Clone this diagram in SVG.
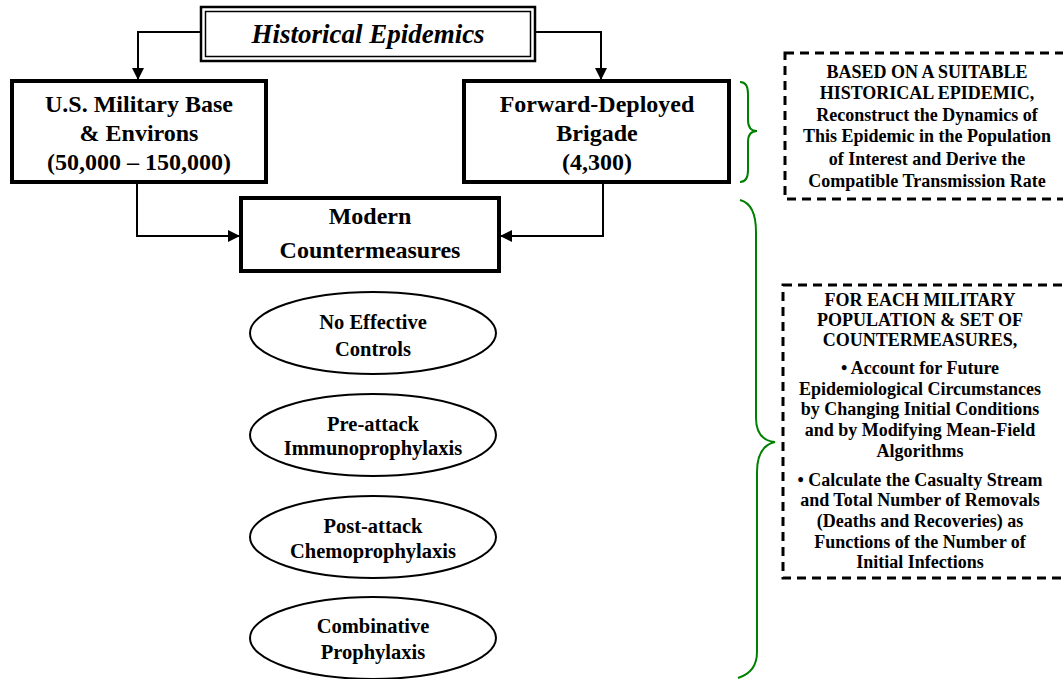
<svg xmlns="http://www.w3.org/2000/svg" width="1063" height="679" viewBox="0 0 1063 679">
<defs>
<marker id="ah" markerWidth="12" markerHeight="12" refX="11" refY="6" orient="auto" markerUnits="userSpaceOnUse">
<path d="M0,0 L12,6 L0,12 Z" fill="#000"/>
</marker>
<style>
.box{fill:#fff;stroke:#000;stroke-width:4}
.ell{fill:#fff;stroke:#000;stroke-width:2}
.conn{fill:none;stroke:#000;stroke-width:2}
.brace{fill:none;stroke:#008000;stroke-width:2}
.dash{fill:#fff;stroke:#000;stroke-width:3;stroke-dasharray:9 6}
text{font-family:"Liberation Serif","Times New Roman",serif;font-weight:bold;text-anchor:middle;fill:#000}
.big{font-size:24px}
.mid{font-size:20.5px}
.sm{font-size:18px}
</style>
</defs>
<rect width="1063" height="679" fill="#fff"/>
<g id="connectors">
<path class="conn" d="M201,32 H138 V79" marker-end="url(#ah)"/>
<path class="conn" d="M535,32 H601 V79" marker-end="url(#ah)"/>
<path class="conn" d="M137,183 V236 H239" marker-end="url(#ah)"/>
<path class="conn" d="M603,183 V236 H501" marker-end="url(#ah)"/>
</g>
<g id="historical">
<rect x="201" y="7" width="334" height="54" fill="#fff" stroke="#000" stroke-width="2.5"/>
<rect x="205.5" y="11.5" width="325" height="45" fill="none" stroke="#000" stroke-width="1.5"/>
<text x="368" y="43" style="font-size:27px;font-style:italic">Historical Epidemics</text>
</g>
<g id="base">
<rect class="box" x="12" y="81" width="254" height="101"/>
<text class="big" x="139" y="112">U.S. Military Base</text>
<text class="big" x="139" y="141">&amp; Environs</text>
<text class="big" x="139" y="170">(50,000 – 150,000)</text>
</g>
<g id="brigade">
<rect class="box" x="464" y="81" width="265" height="101"/>
<text class="big" x="597" y="112">Forward-Deployed</text>
<text class="big" x="597" y="141">Brigade</text>
<text class="big" x="597" y="170">(4,300)</text>
</g>
<g id="modern">
<rect class="box" x="241" y="198" width="258" height="73"/>
<text class="big" x="370" y="224">Modern</text>
<text class="big" x="370" y="258">Countermeasures</text>
</g>
<g id="e1">
<ellipse class="ell" cx="373" cy="333" rx="123" ry="41"/>
<text class="mid" x="373" y="329">No Effective</text>
<text class="mid" x="373" y="356">Controls</text>
</g>
<g id="e2">
<ellipse class="ell" cx="373" cy="435" rx="123" ry="41"/>
<text class="mid" x="373" y="431">Pre-attack</text>
<text class="mid" x="373" y="455">Immunoprophylaxis</text>
</g>
<g id="e3">
<ellipse class="ell" cx="373" cy="537" rx="123" ry="41"/>
<text class="mid" x="373" y="533">Post-attack</text>
<text class="mid" x="373" y="558">Chemoprophylaxis</text>
</g>
<g id="e4">
<ellipse class="ell" cx="373" cy="638" rx="123" ry="41"/>
<text class="mid" x="373" y="633">Combinative</text>
<text class="mid" x="373" y="659">Prophylaxis</text>
</g>
<g id="braces">
<path class="brace" d="M740,82 Q748,82 748,94 L748,120 Q748,131 757,131 Q748,131 748,142 L748,170 Q748,182 740,182"/>
<path class="brace" d="M740,200 Q756,204 756,232 L756,418 Q756,440 775,442 Q757,446 757,472 L757,652 Q757,672 738,678"/>
</g>
<g id="note1">
<rect class="dash" x="785" y="53" width="300" height="146"/>
<text class="sm" x="927" y="78">BASED ON A SUITABLE</text>
<text class="sm" x="927" y="99">HISTORICAL EPIDEMIC,</text>
<text class="sm" x="927" y="121">Reconstruct the Dynamics of</text>
<text class="sm" x="927" y="142">This Epidemic in the Population</text>
<text class="sm" x="927" y="165">of Interest and Derive the</text>
<text class="sm" x="927" y="187">Compatible Transmission Rate</text>
</g>
<g id="note2">
<rect class="dash" x="783" y="285" width="300" height="293"/>
<text class="sm" x="920" y="306">FOR EACH MILITARY</text>
<text class="sm" x="920" y="326">POPULATION &amp; SET OF</text>
<text class="sm" x="920" y="346">COUNTERMEASURES,</text>
<text class="sm" x="920" y="374">• Account for Future</text>
<text class="sm" x="920" y="395">Epidemiological Circumstances</text>
<text class="sm" x="920" y="415">by Changing Initial Conditions</text>
<text class="sm" x="920" y="436">and by Modifying Mean-Field</text>
<text class="sm" x="920" y="457">Algorithms</text>
<text class="sm" x="920" y="486">• Calculate the Casualty Stream</text>
<text class="sm" x="920" y="506">and Total Number of Removals</text>
<text class="sm" x="920" y="527">(Deaths and Recoveries) as</text>
<text class="sm" x="920" y="548">Functions of the Number of</text>
<text class="sm" x="920" y="568">Initial Infections</text>
</g>
</svg>
